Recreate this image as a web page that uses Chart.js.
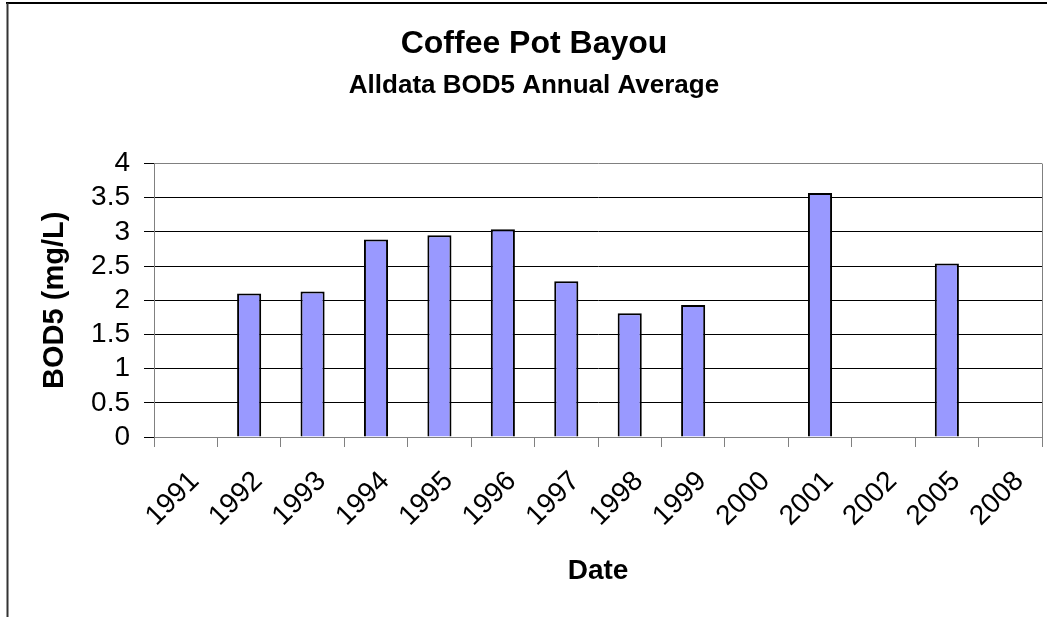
<!DOCTYPE html>
<html>
<head>
<meta charset="utf-8">
<script src="https://cdn.jsdelivr.net/npm/chart.js@4/dist/chart.umd.min.js"></script>
<style>
  html, body { margin: 0; padding: 0; background: #fff; }
  canvas { display: block; }
</style>
</head>
<body>
<canvas id="chart" width="1047" height="617"></canvas>
<script>
// Coffee Pot Bayou - BOD5 annual averages (mg/L)
const years = ['1991', '1992', '1993', '1994', '1995', '1996', '1997',
               '1998', '1999', '2000', '2001', '2002', '2005', '2008']
const bod5 = [null, 2.10, 2.13, 2.89, 2.95, 3.04, 2.28,
              1.81, 1.93, null, 3.57, null, 2.54, null]
const yTickLabels = ['0', '0.5', '1', '1.5', '2', '2.5', '3', '3.5', '4']

const FONT = "'Liberation Sans', Arial, sans-serif"

// outer frame (top + left edge) and the right edge of the plot area
const framePlugin = {
  id: 'frame',
  afterDraw(chart) {
    const ctx = chart.ctx
    const a = chart.chartArea
    ctx.save()
    ctx.strokeStyle = '#000'
    ctx.lineWidth = 2
    ctx.beginPath()
    ctx.moveTo(6, 3)
    ctx.lineTo(1047, 3)
    ctx.stroke()
    ctx.strokeStyle = '#333'
    ctx.beginPath()
    ctx.moveTo(7.5, 3)
    ctx.lineTo(7.5, 617)
    ctx.stroke()
    ctx.strokeStyle = '#808080'
    ctx.lineWidth = 1
    ctx.beginPath()
    ctx.moveTo(Math.round(a.right) + 0.5, a.top)
    ctx.lineTo(Math.round(a.right) + 0.5, a.bottom)
    ctx.stroke()
    ctx.restore()
  }
}

new Chart(document.getElementById('chart'), {
  type: 'bar',
  data: {
    labels: years,
    datasets: [{
      label: 'BOD5',
      data: bod5,
      backgroundColor: '#9999ff',
      borderColor: '#000',
      borderWidth: 2,
      categoryPercentage: 1,
      barPercentage: 0.38
    }]
  },
  options: {
    responsive: false,
    animation: false,
    layout: { padding: { left: 26, right: 5, top: 0, bottom: 0 } },
    plugins: {
      legend: { display: false },
      tooltip: { enabled: false },
      title: {
        display: true,
        text: 'Coffee Pot Bayou',
        color: '#000',
        font: { family: FONT, size: 32, weight: 'bold' },
        padding: { top: 25, bottom: 0 }
      },
      subtitle: {
        display: true,
        text: 'Alldata BOD5 Annual Average',
        color: '#000',
        font: { family: FONT, size: 26, weight: 'bold' },
        padding: { top: 7, bottom: 62 }
      }
    },
    scales: {
      x: {
        afterFit: (s) => { s.height = 180; s.paddingLeft = 0; s.paddingRight = 0 },
        grid: {
          offset: true,
          drawOnChartArea: false,
          color: '#808080',
          tickLength: 10
        },
        border: { color: '#808080', width: 1 },
        ticks: {
          color: '#000',
          font: { family: FONT, size: 28 },
          minRotation: 45,
          maxRotation: 45,
          autoSkip: false,
          padding: 18,
          labelOffset: 9
        },
        title: {
          display: true,
          text: 'Date',
          color: '#000',
          font: { family: FONT, size: 28, weight: 'bold' },
          padding: { top: 0, bottom: 29 }
        }
      },
      y: {
        min: 0,
        max: 4,
        afterFit: (s) => { s.width = 128; s.paddingTop = 0; s.paddingBottom = 0 },
        grid: {
          color: (c) => c.tick && c.tick.value === 4 ? '#808080' : '#000',
          tickColor: '#000',
          tickLength: 10
        },
        border: { color: '#808080', width: 1 },
        ticks: {
          stepSize: 0.5,
          autoSkip: false,
          color: '#000',
          font: { family: FONT, size: 28 },
          padding: 14,
          callback: (v, i) => yTickLabels[i]
        },
        title: {
          display: true,
          text: 'BOD5 (mg/L)',
          color: '#000',
          font: { family: FONT, size: 29, weight: 'bold' },
          padding: { top: 12, bottom: 0 }
        }
      }
    }
  },
  plugins: [framePlugin]
})
</script>
</body>
</html>
